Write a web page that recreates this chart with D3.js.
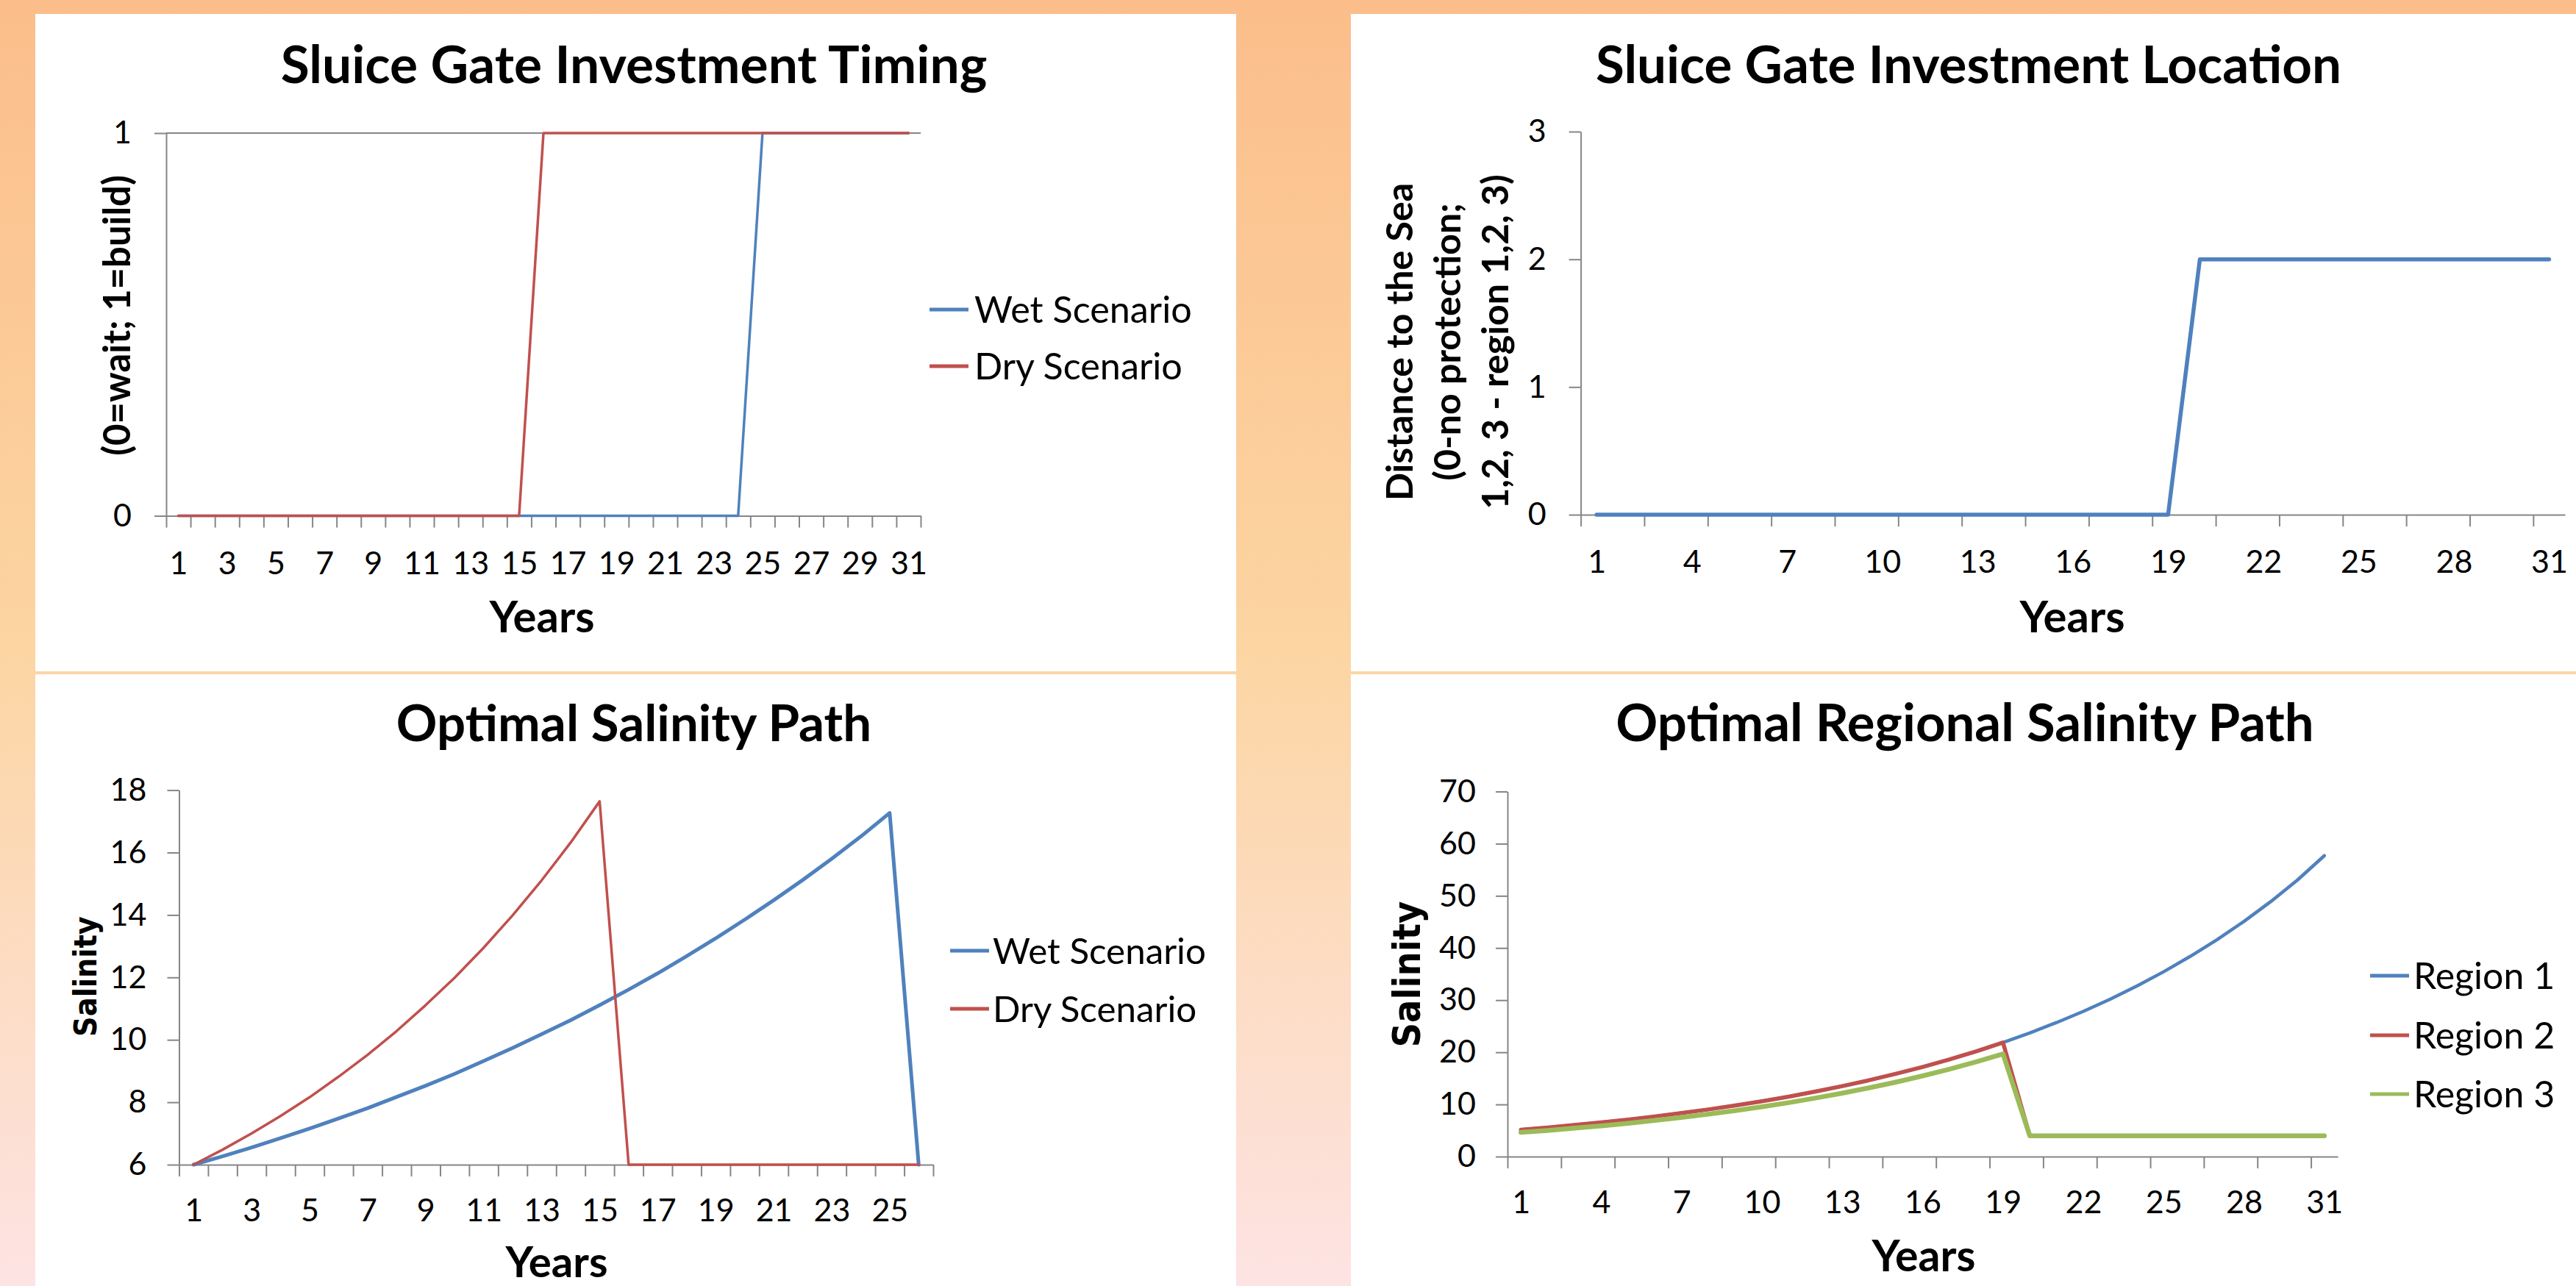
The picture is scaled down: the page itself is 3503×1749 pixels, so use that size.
<!DOCTYPE html>
<html>
<head>
<meta charset="utf-8">
<script src="https://d3js.org/d3.v7.min.js"></script>
<style>
  html, body { margin: 0; padding: 0; overflow: hidden; background: #fff; }
  svg { display: block; }
</style>
</head>
<body>
<svg id="chart" width="3503" height="1749"></svg>
<script>
// ---- data ----
const years31 = [1,2,3,4,5,6,7,8,9,10,11,12,13,14,15,16,17,18,19,20,21,22,23,24,25,26,27,28,29,30,31];
const years26 = [1,2,3,4,5,6,7,8,9,10,11,12,13,14,15,16,17,18,19,20,21,22,23,24,25,26];

// Sluice gate investment timing (0 = wait, 1 = build)
const timingWet = [0,0,0,0,0,0,0,0,0,0,0,0,0,0,0,0,0,0,0,0,0,0,0,0,1,1,1,1,1,1,1];
const timingDry = [0,0,0,0,0,0,0,0,0,0,0,0,0,0,0,1,1,1,1,1,1,1,1,1,1,1,1,1,1,1,1];

// Sluice gate investment location
const locationVals = [0,0,0,0,0,0,0,0,0,0,0,0,0,0,0,0,0,0,0,2,2,2,2,2,2,2,2,2,2,2,2];

// Optimal salinity path
const salinityWet = [6.00,6.27,6.55,6.85,7.16,7.48,7.81,8.17,8.53,8.91,9.32,9.74,10.18,10.63,11.11,11.61,12.13,12.68,13.25,13.85,14.47,15.12,15.80,16.51,17.27,6.00];
const salinityDry = [6.00,6.48,7.00,7.56,8.16,8.82,9.52,10.28,11.11,11.99,12.95,13.99,15.11,16.32,17.64,6,6,6,6,6,6,6,6,6,6,6];

// Optimal regional salinity path
const region1 = [5.15,5.58,6.05,6.56,7.10,7.70,8.34,9.04,9.80,10.62,11.50,12.47,13.51,14.64,15.87,17.19,18.63,20.19,21.88,23.71,25.70,27.85,30.18,32.70,35.44,38.41,41.62,45.10,48.90,53.05,57.70];
const region2 = [5.15,5.58,6.05,6.56,7.10,7.70,8.34,9.04,9.80,10.62,11.50,12.47,13.51,14.64,15.87,17.19,18.63,20.19,21.88,4,4,4,4,4,4,4,4,4,4,4,4];
const region3 = [4.64,5.02,5.45,5.90,6.39,6.93,7.51,8.14,8.82,9.56,10.35,11.22,12.16,13.18,14.28,15.47,16.77,18.17,19.69,4,4,4,4,4,4,4,4,4,4,4,4];

const timingTicks = [0, 1];
const locationTicks = [0, 1, 2, 3];
const salinityTicks = [6, 8, 10, 12, 14, 16, 18];
const regionTicks = [0, 10, 20, 30, 40, 50, 60, 70];

// ---- page ----
const W = 3503, H = 1749;
const BLUE = "#4F81BD", RED = "#C0504D", GREEN = "#9BBB59", AXIS = "#868686";
const CAL = "Lato, 'Open Sans', sans-serif";
const VER = "'DejaVu Sans Condensed', 'DejaVu Sans', sans-serif";

const svg = d3.select("#chart");
const grad = svg.append("defs").append("linearGradient")
    .attr("id", "bg").attr("x1", 0).attr("y1", 0).attr("x2", 0).attr("y2", 1);
grad.append("stop").attr("offset", "0%").attr("stop-color", "#FBBE8B");
grad.append("stop").attr("offset", "50%").attr("stop-color", "#FCD5A2");
grad.append("stop").attr("offset", "100%").attr("stop-color", "#FDE3E3");
svg.append("rect").attr("width", W).attr("height", H).attr("fill", "url(#bg)");

// white chart panels
[[48, 19, 1633, 894], [1837, 19, 1666, 894], [48, 917, 1633, 832], [1837, 917, 1666, 832]]
  .forEach(p => svg.append("rect").attr("x", p[0]).attr("y", p[1])
      .attr("width", p[2]).attr("height", p[3]).attr("fill", "#fff"));

// scale a text's font size so that it spans the width measured on the reference
function fitWidth(sel, target) {
    const node = sel.node();
    const size = +sel.attr("font-size");
    const len = node.getComputedTextLength();
    if (len > 0) sel.attr("font-size", (size * target / len).toFixed(1));
    return sel;
}

function drawChart(o) {
    const g = svg.append("g");
    const n = o.cats.length;
    const x = d3.scaleLinear().domain([0.5, n + 0.5]).range([o.x0, o.x1]);
    const y = d3.scaleLinear().domain(o.yDomain).range([o.yBottom, o.yTop]);
    const axisY = y(o.yDomain[0]);

    // gridlines
    if (o.grid) {
        g.append("g").selectAll("line").data(o.grid).join("line")
            .attr("x1", o.x0).attr("x2", o.x1)
            .attr("y1", d => y(d)).attr("y2", d => y(d))
            .attr("stroke", AXIS).attr("stroke-width", 2);
    }

    // x axis: tick marks between categories
    const bounds = d3.range(0, n + 1, o.tickEvery).map(k => k + 0.5);
    const xa = g.append("g").attr("transform", `translate(0,${axisY})`)
        .call(d3.axisBottom(x).tickValues(bounds).tickFormat("").tickSize(16).tickSizeOuter(0));
    xa.selectAll("path, line").attr("stroke", AXIS).attr("stroke-width", 2);

    // x axis labels
    const xl = g.append("g").attr("transform", `translate(0,${axisY})`)
        .call(d3.axisBottom(x).tickValues(o.labels).tickFormat(d3.format("d")).tickSize(0));
    xl.select(".domain").remove();
    xl.selectAll("text").attr("y", o.xLabelOff).attr("dy", "0.35em")
        .attr("font-family", CAL).attr("font-size", 43).attr("fill", "#000");

    // y axis
    const ya = g.append("g").attr("transform", `translate(${o.x0},0)`)
        .call(d3.axisLeft(y).tickValues(o.yTicks).tickFormat(d3.format("d"))
            .tickSize(16).tickSizeOuter(0).tickPadding(o.yPad));
    ya.selectAll("path, line").attr("stroke", AXIS).attr("stroke-width", 2);
    ya.selectAll("text").attr("font-family", CAL).attr("font-size", 43).attr("fill", "#000");

    // series
    const line = d3.line().x((d, i) => x(o.cats[i])).y(d => y(d));
    o.series.forEach(s => {
        g.append("path").datum(s.values)
            .attr("d", line)
            .attr("fill", "none")
            .attr("stroke", s.color)
            .attr("stroke-width", s.width)
            .attr("stroke-linejoin", "round")
            .attr("stroke-linecap", "round");
    });

    // legend
    if (o.legend) {
        const lg = g.append("g");
        let legendSize = 0;
        o.series.forEach((s, i) => {
            const ly = o.legend.y[i];
            lg.append("line").attr("x1", o.legend.x0).attr("x2", o.legend.x1)
                .attr("y1", ly).attr("y2", ly)
                .attr("stroke", s.color).attr("stroke-width", 5);
            const t = lg.append("text").attr("x", o.legend.tx).attr("y", ly).attr("dy", "0.36em")
                .attr("font-family", CAL).attr("font-size", 48).attr("fill", "#000")
                .text(s.name);
            if (i === 0) { fitWidth(t, o.legend.w); legendSize = t.attr("font-size"); }
            else t.attr("font-size", legendSize);
        });
    }

    // chart title
    fitWidth(g.append("text").attr("x", o.title.x).attr("y", o.title.y)
        .attr("text-anchor", "middle").attr("font-family", CAL)
        .attr("font-weight", "bold").attr("font-size", 68).attr("fill", "#000")
        .text(o.title.text), o.title.w);

    // x title
    fitWidth(g.append("text").attr("x", o.xTitle.x).attr("y", o.xTitle.y)
        .attr("text-anchor", "middle").attr("font-family", CAL)
        .attr("font-weight", "bold").attr("font-size", 57).attr("fill", "#000")
        .text("Years"), o.xTitle.w);

    // y title (rotated, possibly several lines)
    let ySize = 0;
    o.yTitle.lines.forEach((t, i) => {
        const tx = g.append("text")
            .attr("transform", `translate(${o.yTitle.x + i * o.yTitle.step},${o.yTitle.y}) rotate(-90)`)
            .attr("text-anchor", "middle").attr("font-family", o.yTitle.font)
            .attr("font-weight", "bold").attr("font-size", 42).attr("fill", "#000")
            .text(t);
        if (i === 0) { fitWidth(tx, o.yTitle.w); ySize = tx.attr("font-size"); }
        else tx.attr("font-size", ySize);
    });
}

// top left
drawChart({
    cats: years31, labels: [1,3,5,7,9,11,13,15,17,19,21,23,25,27,29,31], tickEvery: 1,
    x0: 226, x1: 1252, yTop: 181, yBottom: 701.5, yDomain: [0, 1], yTicks: timingTicks,
    grid: [1], yPad: 31, xLabelOff: 64,
    series: [
        { name: "Wet Scenario", values: timingWet, color: BLUE, width: 3.5 },
        { name: "Dry Scenario", values: timingDry, color: RED, width: 3.5 }
    ],
    legend: { x0: 1264, x1: 1317, tx: 1325, y: [421, 498], w: 296 },
    title: { text: "Sluice Gate Investment Timing", x: 862, y: 113, w: 960 },
    xTitle: { x: 737, y: 860, w: 143 },
    yTitle: { lines: ["(0=wait; 1=build)"], font: CAL, x: 177, y: 429, step: 0, w: 382 }
});

// top right
drawChart({
    cats: years31, labels: [1,4,7,10,13,16,19,22,25,28,31], tickEvery: 2,
    x0: 2149.6, x1: 3488, yTop: 179, yBottom: 700, yDomain: [0, 3], yTicks: locationTicks,
    yPad: 31, xLabelOff: 64,
    series: [
        { name: "Location", values: locationVals, color: BLUE, width: 5.5 }
    ],
    title: { text: "Sluice Gate Investment Location", x: 2677, y: 113, w: 1014 },
    xTitle: { x: 2818, y: 860, w: 143 },
    yTitle: { lines: ["Distance to the Sea", "(0-no protection;", "1,2, 3 - region 1,2, 3)"],
              font: CAL, x: 1921, y: 465, step: 65, w: 432 }
});

// bottom left
drawChart({
    cats: years26, labels: [1,3,5,7,9,11,13,15,17,19,21,23,25], tickEvery: 1,
    x0: 243.5, x1: 1269, yTop: 1074.6, yBottom: 1584, yDomain: [6, 18], yTicks: salinityTicks,
    yPad: 28, xLabelOff: 62,
    series: [
        { name: "Wet Scenario", values: salinityWet, color: BLUE, width: 5 },
        { name: "Dry Scenario", values: salinityDry, color: RED, width: 3.5 }
    ],
    legend: { x0: 1292, x1: 1345, tx: 1350, y: [1293, 1372], w: 290 },
    title: { text: "Optimal Salinity Path", x: 862, y: 1008, w: 646 },
    xTitle: { x: 757, y: 1737, w: 139 },
    yTitle: { lines: ["Salinity"], font: VER, x: 131, y: 1328, step: 0, w: 164 }
});

// bottom right
drawChart({
    cats: years31, labels: [1,4,7,10,13,16,19,22,25,28,31], tickEvery: 2,
    x0: 2050, x1: 3179, yTop: 1076.5, yBottom: 1573, yDomain: [0, 70], yTicks: regionTicks,
    yPad: 27, xLabelOff: 62,
    series: [
        { name: "Region 1", values: region1, color: BLUE, width: 4.5 },
        { name: "Region 2", values: region2, color: RED, width: 5.5 },
        { name: "Region 3", values: region3, color: GREEN, width: 6.5 }
    ],
    legend: { x0: 3223, x1: 3276, tx: 3282, y: [1327, 1408, 1488], w: 192 },
    title: { text: "Optimal Regional Salinity Path", x: 2672, y: 1008, w: 949 },
    xTitle: { x: 2616, y: 1729, w: 141 },
    yTitle: { lines: ["Salinity"], font: VER, x: 1931, y: 1325, step: 0, w: 199 }
});
</script>
</body>
</html>
